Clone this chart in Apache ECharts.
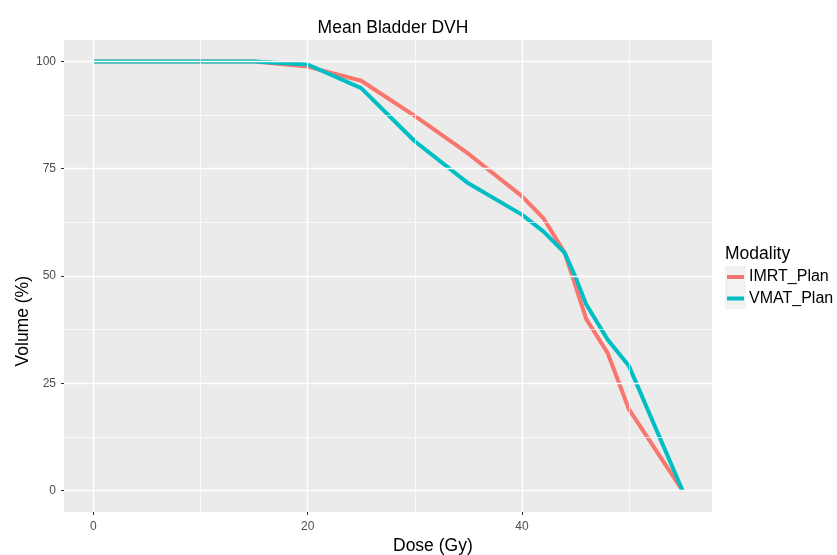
<!DOCTYPE html>
<html>
<head>
<meta charset="utf-8">
<script src="https://cdn.jsdelivr.net/npm/echarts@6/dist/echarts.min.js"></script>
<style>html,body{margin:0;padding:0;background:#fff;}#c{width:837px;height:555px;}</style>
</head>
<body>
<div id="c"></div>
<script>
// ---- data ----
var imrtDose = [0, 5, 10, 15, 20, 25, 30, 35, 40, 42, 44, 46, 48, 50, 55];
var imrtVol  = [100, 100, 100, 100, 98.8, 95.5, 87.3, 78.5, 68.6, 63.5, 55.4, 40.0, 32.1, 18.9, 0];
var vmatDose = [0, 5, 10, 15, 20, 25, 30, 35, 40, 42, 44, 45, 46, 48, 50, 55];
var vmatVol  = [100, 100, 100, 100, 99.3, 93.8, 81.4, 71.6, 64.3, 60.4, 55.4, 49.8, 43.4, 35.2, 29.0, 0];
var seriesNames = ['IMRT_Plan', 'VMAT_Plan'];
var xTicks = [0, 20, 40];
var xMinor = [10, 30, 50];
var yTicks = [0, 25, 50, 75, 100];
var yMinor = [12.5, 37.5, 62.5, 87.5];
var titleText = 'Mean Bladder DVH';
var xTitle = 'Dose (Gy)';
var yTitle = 'Volume (%)';
var legendTitle = 'Modality';

function pairs(xs, ys) { return xs.map(function (x, i) { return [x, ys[i]]; }); }

var FONT = '"Liberation Sans", Arial, sans-serif';
var gridLines = [];
xTicks.forEach(function (v) { gridLines.push({ xAxis: v, lineStyle: { color: '#fff', width: 1.4, type: 'solid' } }); });
xMinor.forEach(function (v) { gridLines.push({ xAxis: v, lineStyle: { color: '#fff', width: 0.7, type: 'solid' } }); });
yTicks.forEach(function (v) { gridLines.push({ yAxis: v, lineStyle: { color: '#fff', width: 1.4, type: 'solid' } }); });
yMinor.forEach(function (v) { gridLines.push({ yAxis: v, lineStyle: { color: '#fff', width: 0.7, type: 'solid' } }); });

var chart = echarts.init(document.getElementById('c'), null, { renderer: 'canvas' });
chart.setOption({
  animation: false,
  backgroundColor: '#ffffff',
  textStyle: { fontFamily: FONT },
  title: {
    text: titleText, left: 388, top: 14, textAlign: 'center',
    textStyle: { fontFamily: FONT, fontSize: 17.5, fontWeight: 'normal', color: '#000' }
  },
  grid: {
    left: 64, top: 40, width: 648, height: 472,
    show: true, backgroundColor: '#EBEBEB', borderWidth: 0
  },
  legend: {
    orient: 'vertical', left: 727, top: 269, padding: 0,
    itemWidth: 17, itemHeight: 4, itemGap: 5.5, icon: 'rect',
    data: seriesNames,
    textStyle: { fontFamily: FONT, fontSize: 16, color: '#000' }
  },
  graphic: [
    { type: 'rect', left: 725, top: 266, shape: { width: 21, height: 43 }, style: { fill: '#F2F2F2' }, z: -1 },
    { type: 'text', left: 725, top: 245, style: { text: legendTitle, fontFamily: FONT, fontSize: 17.5, fill: '#000' } },
    { type: 'text', left: 393, top: 537, style: { text: xTitle, fontFamily: FONT, fontSize: 17.5, fill: '#000', textAlign: 'center' } },
    { type: 'text', left: 14, top: 276, rotation: Math.PI / 2, originX: 0, originY: 0,
      style: { text: yTitle, fontFamily: FONT, fontSize: 17.5, fill: '#000', textAlign: 'center', textVerticalAlign: 'middle' } }
  ],
  xAxis: {
    type: 'value', min: -2.75, max: 57.75,
    axisLine: { show: false, onZero: false },
    splitLine: { show: false },
    axisTick: { show: true, customValues: xTicks, length: 3, lineStyle: { color: '#333', width: 1 } },
    axisLabel: { customValues: xTicks, margin: 9, fontFamily: FONT, fontSize: 12, color: '#4D4D4D' }
  },
  yAxis: {
    type: 'value', min: -5, max: 105,
    axisLine: { show: false, onZero: false },
    splitLine: { show: false },
    axisTick: { show: true, customValues: yTicks, length: 3, lineStyle: { color: '#333', width: 1 } },
    axisLabel: { customValues: yTicks, margin: 8, fontFamily: FONT, fontSize: 12, color: '#4D4D4D' }
  },
  series: [
    {
      type: 'line', name: '_grid', data: [], silent: true, z: 1,
      markLine: { silent: true, symbol: ['none', 'none'], label: { show: false }, animation: false, data: gridLines }
    },
    {
      type: 'line', name: seriesNames[0], data: pairs(imrtDose, imrtVol), showSymbol: false, z: 3,
      color: '#F8766D', lineStyle: { width: 4, color: '#F8766D' }
    },
    {
      type: 'line', name: seriesNames[1], data: pairs(vmatDose, vmatVol), showSymbol: false, z: 4,
      color: '#00BFC4', lineStyle: { width: 4, color: '#00BFC4' }
    }
  ]
});
</script>
</body>
</html>
